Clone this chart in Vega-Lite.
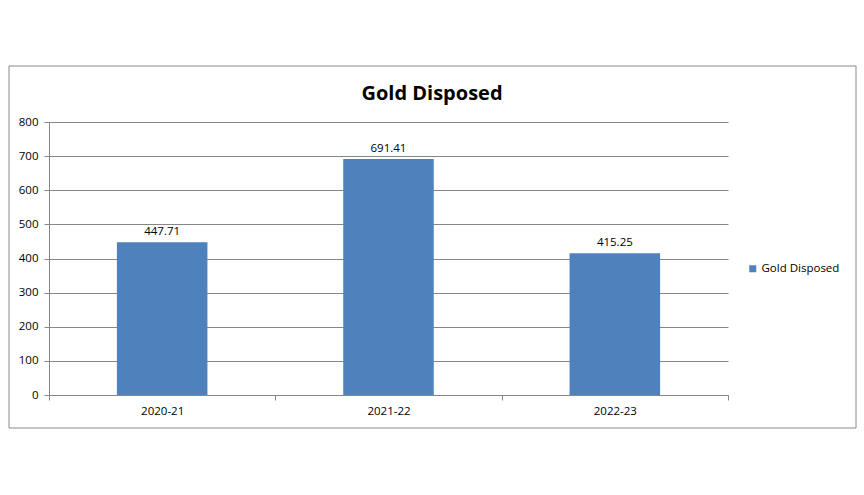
{
  "$schema": "https://vega.github.io/schema/vega-lite/v6.json",
  "width": 679,
  "height": 273,
  "autosize": "none",
  "padding": {"left": 49, "top": 122, "right": 136, "bottom": 100},
  "background": "white",
  "config": {"view": {"stroke": null}, "font": "Open Sans"},
  "title": {"text": "Gold Disposed", "fontSize": 20, "fontWeight": "bold", "font": "Open Sans", "color": "#000000", "anchor": "middle", "dx": 43.5, "offset": -38},
  "data": {"values": [
    {"year": "2020-21", "value": 447.71},
    {"year": "2021-22", "value": 691.41},
    {"year": "2022-23", "value": 415.25}
  ]},
  "encoding": {
    "x": {"field": "year", "type": "nominal", "sort": null,
      "scale": {"paddingInner": 0, "paddingOuter": 0},
      "axis": {"title": null, "labelAngle": 0, "tickBand": "extent", "domainColor": "#868686", "tickColor": "#868686", "tickSize": 5, "labelPadding": 5, "labelFontSize": 11.5, "labelColor": "#000000", "labelFont": "Open Sans"}},
    "y": {"field": "value", "type": "quantitative",
      "scale": {"domain": [0, 800], "nice": false},
      "axis": {"title": null, "values": [0, 100, 200, 300, 400, 500, 600, 700, 800], "labelOverlap": false, "grid": true, "gridColor": "#868686", "domainColor": "#868686", "tickColor": "#868686", "tickSize": 5, "labelPadding": 6, "labelFontSize": 11.5, "labelColor": "#000000", "labelFont": "Open Sans"}}
  },
  "layer": [
    {
      "data": {"values": [{"frame": 1}]},
      "mark": {"type": "rect", "fill": null, "stroke": "#888888", "strokeWidth": 1},
      "encoding": {"x": {"value": -40}, "x2": {"value": 807}, "y": {"value": -56}, "y2": {"value": 306}}
    },
    {
      "mark": {"type": "bar", "width": {"band": 0.4}},
      "encoding": {
        "color": {"datum": "Gold Disposed", "type": "nominal",
          "scale": {"range": ["#4F81BD"]},
          "legend": {"title": null, "orient": "none", "legendX": 698, "legendY": 141, "padding": 0, "symbolType": "square", "symbolSize": 49, "symbolStrokeWidth": 0, "labelFontSize": 11.5, "labelColor": "#000000", "labelFont": "Open Sans", "labelOffset": 3}}
      }
    },
    {
      "mark": {"type": "text", "baseline": "bottom", "dy": -5, "fontSize": 11.5, "color": "#000000", "font": "Open Sans"},
      "encoding": {
        "text": {"field": "value", "type": "quantitative", "format": ".2f"}
      }
    }
  ]
}
